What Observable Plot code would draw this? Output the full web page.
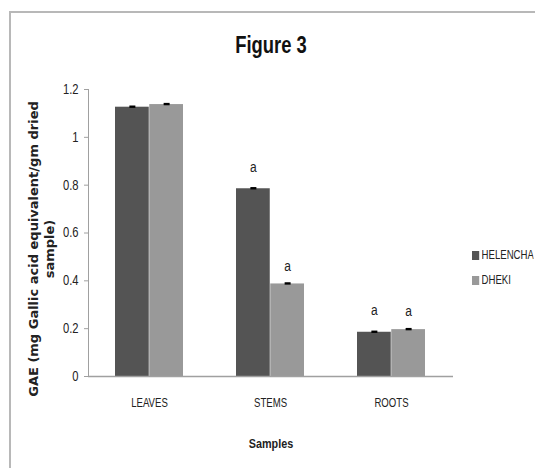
<!DOCTYPE html>
<html>
<head>
<meta charset="utf-8">
<script src="https://cdn.jsdelivr.net/npm/d3@7"></script>
<script src="https://cdn.jsdelivr.net/npm/@observablehq/plot@0.6"></script>
<style>
  body { margin: 0; background: #fff; }
  #wrap { position: relative; width: 535px; height: 468px; overflow: hidden; background: #fff; }
  #border { position: absolute; left: 9px; top: 11px; width: 600px; height: 600px;
            border-left: 2px solid #b8b8b8; border-top: 2px solid #b8b8b8; }
  #chart { position: absolute; left: 0; top: 0; }
  #legend { position: absolute; left: 472px; top: 248px; width: 80px;
            transform: scaleX(0.8); transform-origin: 0 0; }
  .lg-swatch { padding-bottom: 11px !important; }
  .lg-swatch svg { margin-right: 3px !important; }
</style>
</head>
<body>
<div id="wrap">
  <div id="border"></div>
  <div id="chart"></div>
  <div id="legend"></div>
</div>
<script>
// ---- data ----
const categories = ["LEAVES", "STEMS", "ROOTS"];
const series = ["HELENCHA", "DHEKI"];
const helencha = [1.126, 0.785, 0.185];
const dheki = [1.137, 0.387, 0.196];
const helenchaErr = [0.005, 0.005, 0.005];
const dhekiErr = [0.005, 0.005, 0.005];
const helenchaLetters = ["", "a", "a"];
const dhekiLetters = ["", "a", "a"];
const colors = ["#545454", "#999999"];
const yTicks = [0, 0.2, 0.4, 0.6, 0.8, 1, 1.2];
const titleText = "Figure 3";
const xLabel = "Samples";
const yLabel = "GAE (mg Gallic acid equivalent/gm dried\nsample)";

// ---- layout ----
const W = 535, H = 468, ML = 88, MR = 82, MT = 89, MB = 92;
const padInner = 0.437, padOuter = 0.2185;
const step = (W - ML - MR) / (categories.length - padInner + 2 * padOuter);
const bw = step * (1 - padInner);
const half = bw / 2;
const sans = '"Liberation Sans", Arial, sans-serif';

const hRows = categories.map((c, i) => ({cat: c, series: series[0], value: helencha[i], err: helenchaErr[i], letter: helenchaLetters[i]}));
const dRows = categories.map((c, i) => ({cat: c, series: series[1], value: dheki[i], err: dhekiErr[i], letter: dhekiLetters[i]}));

const chart = Plot.plot({
  width: W, height: H,
  marginLeft: ML, marginRight: MR, marginTop: MT, marginBottom: MB,
  style: {fontFamily: sans, fontSize: "13px", color: "#222", background: "transparent"},
  x: {domain: categories, paddingInner: padInner, paddingOuter: padOuter, label: null},
  y: {domain: [0, 1.2], label: null},
  color: {domain: series, range: colors},
  marks: [
    Plot.barY(hRows, {x: "cat", y: "value", fill: "series", insetRight: half, insetLeft: 0}),
    Plot.barY(dRows, {x: "cat", y: "value", fill: "series", insetLeft: half, insetRight: 0}),
    Plot.ruleY([0], {stroke: "#a0a0a0", strokeWidth: 1.5}),
    Plot.frame({anchor: "left", stroke: "#a0a0a0"}),
    Plot.ruleX(hRows, {x: "cat", y1: d => d.value - d.err, y2: d => d.value + d.err, dx: -half / 2, stroke: "#000", strokeWidth: 6}),
    Plot.ruleX(dRows, {x: "cat", y1: d => d.value - d.err, y2: d => d.value + d.err, dx: half / 2, stroke: "#000", strokeWidth: 6}),
    Plot.text(hRows, {x: "cat", y: "value", text: "letter", dx: -half / 2, dy: -22, fontSize: 15, fill: "#222"}),
    Plot.text(dRows, {x: "cat", y: "value", text: "letter", dx: half / 2, dy: -18, fontSize: 15, fill: "#222"}),
    Plot.axisY(yTicks, {tickSize: 4, tickPadding: 6, tickFormat: d3.format("~g"), stroke: "#a0a0a0", fill: "#222", fontSize: 14, label: null}),
    Plot.axisX({tickSize: 0, tickPadding: 22, fontSize: 12, fill: "#222", label: null}),
    Plot.text([titleText], {text: d => d, frameAnchor: "top", dy: -44, fontSize: 23, fontWeight: "bold", lineAnchor: "middle", fill: "#111"}),
    Plot.text([xLabel], {text: d => d, frameAnchor: "bottom", dy: 67, fontSize: 13.5, fontWeight: "bold", lineAnchor: "middle", fill: "#222"}),
    Plot.text([yLabel], {text: d => d, frameAnchor: "left", rotate: -90, dx: -47.5, dy: 16, fontFamily: "DejaVu Sans", fontSize: 13, fontWeight: "bold", lineHeight: 1.2, textAnchor: "middle", lineAnchor: "middle", fill: "#222"})
  ]
});
document.getElementById("chart").appendChild(chart);

// narrow the (Calibri-like) texts horizontally around their anchor point, leaving the y label as is
d3.select(chart).selectAll("text").each(function () {
  if (this.textContent.startsWith("GAE")) return;
  const ax = +this.getAttribute("x") || 0;
  const t = this.getAttribute("transform") || "";
  this.setAttribute("transform", `${t} translate(${ax},0) scale(0.8,1) translate(${-ax},0)`);
});

const legend = Plot.legend({
  color: {domain: series, range: colors},
  legend: "swatches",
  columns: 1,
  swatchSize: 9,
  className: "lg",
  style: {fontFamily: sans, fontSize: "12px", color: "#222"}
});
document.getElementById("legend").appendChild(legend);
</script>
</body>
</html>
